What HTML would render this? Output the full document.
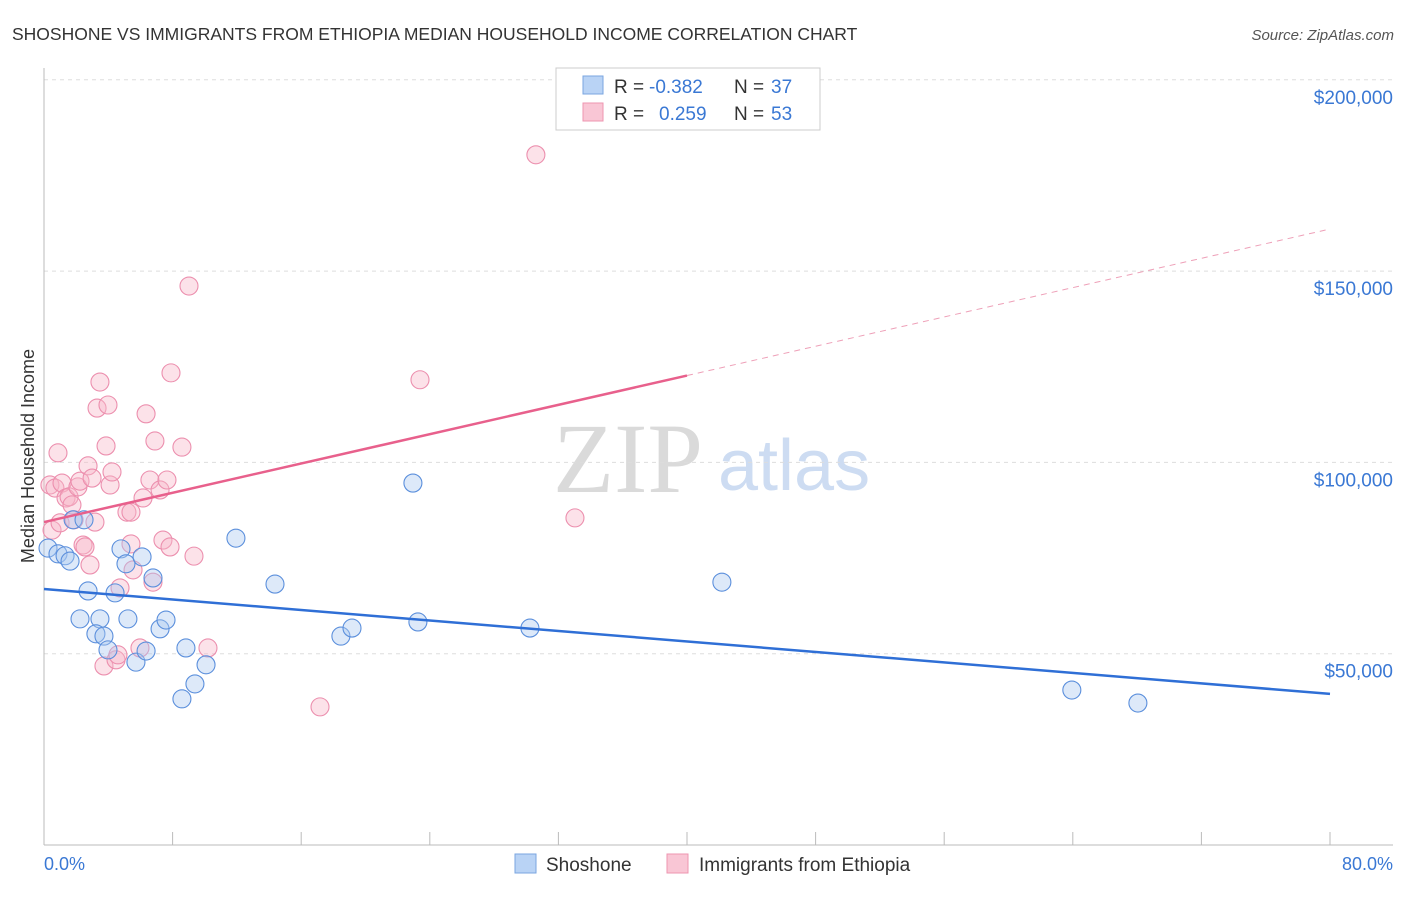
<!DOCTYPE html>
<html><head><meta charset="utf-8"><style>
body{margin:0;background:#fff;font-family:"Liberation Sans",sans-serif;}
</style></head><body>
<svg width="1406" height="892" viewBox="0 0 1406 892" xmlns="http://www.w3.org/2000/svg">
<text x="12" y="40" font-size="17.5" fill="#333">SHOSHONE VS IMMIGRANTS FROM ETHIOPIA MEDIAN HOUSEHOLD INCOME CORRELATION CHART</text>
<text x="1394" y="40" font-size="15" fill="#555" font-style="italic" text-anchor="end">Source: ZipAtlas.com</text>
<text x="553" y="492" font-size="100" font-family="Liberation Serif,serif" fill="#dadada">ZIP</text>
<text x="718" y="490" font-size="72" fill="#cddcf2">atlas</text>
<g id="grid"></g>
<line x1="44" y1="68" x2="44" y2="845" stroke="#bbb"/>
<line x1="44" y1="845" x2="1393" y2="845" stroke="#bbb"/>
<text transform="translate(34,456) rotate(-90)" font-size="18" fill="#333" text-anchor="middle">Median Household Income</text>
<text x="44" y="870" font-size="18" fill="#3a78d4">0.0%</text>
<text x="1393" y="870" font-size="18" fill="#3a78d4" text-anchor="end">80.0%</text>
<g id="points"></g>
<g id="trends"></g>
<g>
<rect x="556" y="68" width="264" height="62" fill="#fff" stroke="#ccc"/>
<rect x="583" y="76" width="20" height="18" fill="#b9d3f5" stroke="#7aa6e0"/>
<rect x="583" y="103" width="20" height="18" fill="#f9c6d5" stroke="#ee95b0"/>
<text x="614" y="93" font-size="19" fill="#333">R =</text>
<text x="649" y="93" font-size="19" fill="#3a78d4">-0.382</text>
<text x="734" y="93" font-size="19" fill="#333">N =</text>
<text x="771" y="93" font-size="19" fill="#3a78d4">37</text>
<text x="614" y="120" font-size="19" fill="#333">R =</text>
<text x="659" y="120" font-size="19" fill="#3a78d4">0.259</text>
<text x="734" y="120" font-size="19" fill="#333">N =</text>
<text x="771" y="120" font-size="19" fill="#3a78d4">53</text>
</g>
<g>
<rect x="515" y="854" width="21" height="19" fill="#b9d3f5" stroke="#7aa6e0"/>
<text x="546" y="871" font-size="19" fill="#333">Shoshone</text>
<rect x="667" y="854" width="21" height="19" fill="#f9c6d5" stroke="#ee95b0"/>
<text x="699" y="871" font-size="19" fill="#333">Immigrants from Ethiopia</text>
</g>
</svg>
<script>
const yTicks=[50000,100000,150000,200000];
const yTickLabels=["$50,000","$100,000","$150,000","$200,000"];
const blueX=[0.25,0.87,1.31,1.62,1.81,2.49,2.74,2.24,3.48,3.23,3.73,3.98,4.42,4.79,5.10,5.22,5.72,6.10,6.35,6.78,7.22,7.59,8.58,8.83,9.39,10.08,11.94,14.37,18.47,19.16,22.95,23.26,30.23,42.17,63.94,68.05];
const blueY=[77.6,76.1,75.6,74.2,85.0,85.0,66.4,59.1,59.1,55.2,54.6,51.0,65.9,77.4,73.5,59.1,47.8,75.3,50.7,69.8,56.5,58.8,38.2,51.5,42.1,47.1,80.2,68.2,54.6,56.7,94.6,58.3,56.7,68.7,40.5,37.1];
const pinkX=[0.50,0.37,0.68,0.87,1.0,1.12,1.37,1.56,1.74,1.87,2.11,2.24,2.43,2.55,2.74,2.86,2.99,3.17,3.30,3.48,3.86,3.98,4.11,4.23,3.73,4.48,4.60,4.73,5.16,5.41,5.41,5.54,5.97,6.16,6.35,6.59,6.78,6.90,7.22,7.40,7.65,7.84,7.90,8.58,9.02,9.33,10.20,17.17,23.39,30.60,33.03];
const pinkY=[82.3,94.1,93.3,102.5,84.2,94.6,90.7,91.0,88.9,85.0,93.6,95.1,78.4,77.9,99.1,73.2,95.9,84.4,114.2,121.0,104.3,115.0,94.1,97.5,46.8,48.4,49.7,67.2,87.0,87.0,78.7,71.9,51.5,90.7,112.7,95.4,68.7,105.6,92.8,79.7,95.4,77.9,123.4,104.0,146.1,75.5,51.5,36.1,121.6,180.4,85.5];
const blueTrend=[66.9,39.5];
const pinkTrend=[84.4,161.0];
const NS="http://www.w3.org/2000/svg";
const xs=v=>44+v/80*1286;
const ys=v=>845-v/50000*191.3;
const yk=v=>ys(v*1000);
const grid=document.getElementById('grid');
yTicks.forEach((t,i)=>{
 const l=document.createElementNS(NS,'line');
 l.setAttribute('x1',44);l.setAttribute('x2',1393);l.setAttribute('y1',ys(t));l.setAttribute('y2',ys(t));
 l.setAttribute('stroke','#ddd');l.setAttribute('stroke-dasharray','4,4');
 
 
 grid.appendChild(l);
 const tx=document.createElementNS(NS,'text');
 tx.setAttribute('x',1393);tx.setAttribute('y',ys(t)+24);tx.setAttribute('text-anchor','end');
 tx.setAttribute('font-size','19');tx.setAttribute('fill','#3a78d4');tx.textContent=yTickLabels[i];
 
 
 grid.appendChild(tx);
});
for(let i=0;i<=10;i++){
 const l=document.createElementNS(NS,'line');
 const x=xs(i*8);
 l.setAttribute('x1',x);l.setAttribute('x2',x);l.setAttribute('y1',832);l.setAttribute('y2',845);l.setAttribute('stroke','#bbb');
 
 
 grid.appendChild(l);
}
const pts=document.getElementById('points');
function dot(x,y,fill,stroke,name){
 const c=document.createElementNS(NS,'circle');
 c.setAttribute('cx',xs(x));c.setAttribute('cy',yk(y));c.setAttribute('r',9);
 c.setAttribute('fill',fill);c.setAttribute('fill-opacity','0.4');c.setAttribute('stroke',stroke);c.setAttribute('stroke-width','1.1');
 
 
 pts.appendChild(c);
}
pinkX.forEach((x,i)=>dot(x,pinkY[i],'#f7b6c9','#ec8fae','ethiopia-point'));
blueX.forEach((x,i)=>dot(x,blueY[i],'#a9c8f0','#5b8fdc','shoshone-point'));
const tr=document.getElementById('trends');
function line(x1,y1,x2,y2,col,dash,name){
 const l=document.createElementNS(NS,'line');
 l.setAttribute('x1',xs(x1));l.setAttribute('y1',yk(y1));l.setAttribute('x2',xs(x2));l.setAttribute('y2',yk(y2));
 l.setAttribute('stroke',col);l.setAttribute('stroke-width',dash?1:2.5);
 if(dash)l.setAttribute('stroke-dasharray','6,5');
 
 
 tr.appendChild(l);
}
line(0,blueTrend[0],80,blueTrend[1],'#2f6fd6',false,'shoshone-trend-line');
const pm=pinkTrend[0]+(pinkTrend[1]-pinkTrend[0])*0.5;
line(0,pinkTrend[0],40,pm,'#e8608c',false,'ethiopia-trend-line');
line(40,pm,80,pinkTrend[1],'#eea0b8',true,'ethiopia-trend-extension');
</script>
</body></html>
